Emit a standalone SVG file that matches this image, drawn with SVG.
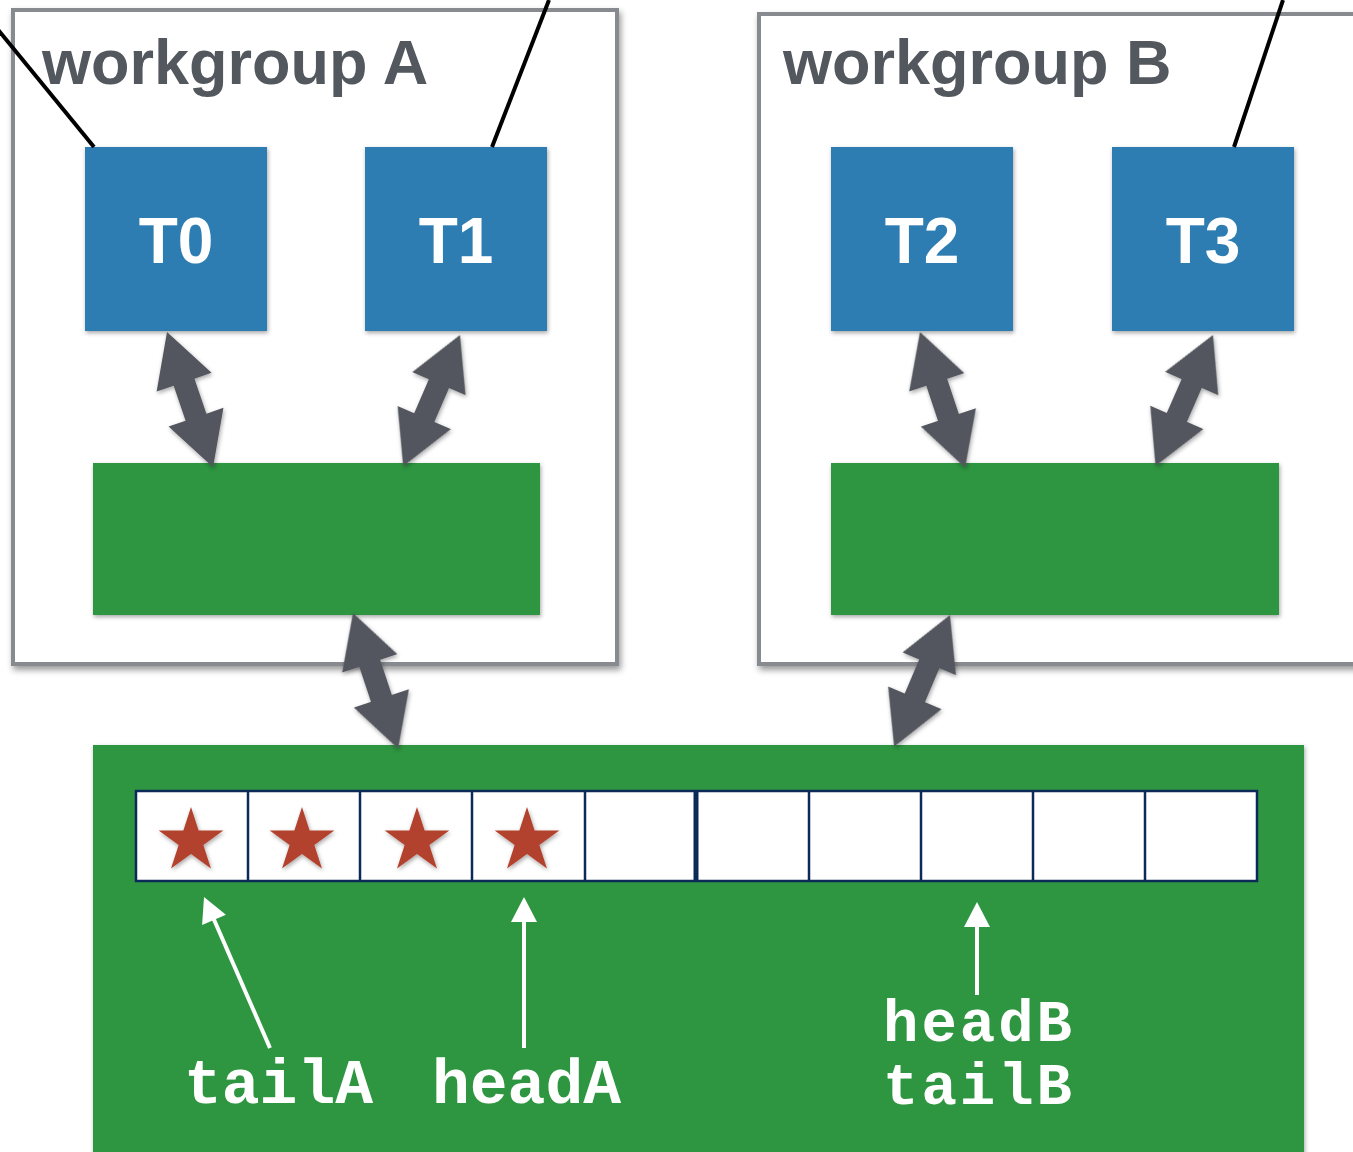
<svg xmlns="http://www.w3.org/2000/svg" xmlns:xlink="http://www.w3.org/1999/xlink" width="1353" height="1152" viewBox="0 0 1353 1152">
<style>
.wg{fill:#ffffff;stroke:#878a8e;stroke-width:4}
.wgt{font-family:"Liberation Sans",Arial,sans-serif;font-weight:bold;font-size:63px;fill:#53575e}
.th{fill:#2e7db2}
.tt{font-family:"Liberation Sans",Arial,sans-serif;font-weight:bold;font-size:64px;fill:#ffffff;text-anchor:middle}
.gr{fill:#2e963f}
.cell{fill:#ffffff;stroke:#0c2a58;stroke-width:2.5}
.star{fill:#b2432f}
.mono{font-family:"Liberation Mono","Courier New",monospace;font-weight:bold;font-size:63px;fill:#ffffff}
.mono2{font-family:"Liberation Mono","Courier New",monospace;font-weight:bold;font-size:59px;fill:#ffffff}
.blk{stroke:#000000;stroke-width:4;fill:none}
.dbl{fill:#52575e}
.wl{stroke:#ffffff;stroke-width:4;fill:none}
.wh{fill:#ffffff}
</style>
<defs>
<filter id="sh" x="-10%" y="-10%" width="130%" height="130%">
<feDropShadow dx="2" dy="4" stdDeviation="3" flood-color="#000" flood-opacity="0.4"/>
</filter>
<filter id="sh2" x="-20%" y="-20%" width="140%" height="140%">
<feDropShadow dx="1" dy="2" stdDeviation="2" flood-color="#000" flood-opacity="0.35"/>
</filter>
<polygon id="dblarrow" points="0,0 53,-29 53,-11 90,-11 90,-29 143,0 90,29 90,11 53,11 53,29"/>
<polygon id="starshape" points="0,-34 7.64,-10.52 32.34,-10.51 12.36,4.02 19.98,27.51 0,13 -19.98,27.51 -12.36,4.02 -32.34,-10.51 -7.64,-10.52"/>
</defs>
<rect width="1353" height="1152" fill="#ffffff"/>

<g id="workgroupA">
<rect class="wg" x="13" y="10" width="604" height="654" filter="url(#sh)"/>
<text class="wgt" x="42" y="84">workgroup A</text>
</g>
<g id="workgroupB">
<rect class="wg" x="759" y="14" width="700" height="650" filter="url(#sh)"/>
<text class="wgt" x="783" y="84">workgroup B</text>
</g>

<g id="T0"><rect class="th" x="85" y="147" width="182" height="184" filter="url(#sh2)"/><text class="tt" x="176" y="263">T0</text></g>
<g id="T1"><rect class="th" x="365" y="147" width="182" height="184" filter="url(#sh2)"/><text class="tt" x="456" y="263">T1</text></g>
<g id="T2"><rect class="th" x="831" y="147" width="182" height="184" filter="url(#sh2)"/><text class="tt" x="922" y="263">T2</text></g>
<g id="T3"><rect class="th" x="1112" y="147" width="182" height="184" filter="url(#sh2)"/><text class="tt" x="1203" y="263">T3</text></g>

<g id="localA"><rect class="gr" x="93" y="463" width="447" height="152" filter="url(#sh2)"/></g>
<g id="localB"><rect class="gr" x="831" y="463" width="448" height="152" filter="url(#sh2)"/></g>

<g id="globalMem">
<rect class="gr" x="93" y="745" width="1211" height="420" filter="url(#sh2)"/>
</g>

<g id="array">
<rect class="cell" x="136" y="791" width="1121" height="90"/>
<line class="cell" x1="248" y1="791" x2="248" y2="881"/>
<line class="cell" x1="360" y1="791" x2="360" y2="881"/>
<line class="cell" x1="472" y1="791" x2="472" y2="881"/>
<line class="cell" x1="585" y1="791" x2="585" y2="881"/>
<line x1="696" y1="791" x2="696" y2="881" stroke="#0c2a58" stroke-width="5"/>
<line class="cell" x1="809" y1="791" x2="809" y2="881"/>
<line class="cell" x1="921" y1="791" x2="921" y2="881"/>
<line class="cell" x1="1033" y1="791" x2="1033" y2="881"/>
<line class="cell" x1="1145" y1="791" x2="1145" y2="881"/>
<g filter="url(#sh2)">
<use href="#starshape" class="star" transform="translate(191,841)"/>
<use href="#starshape" class="star" transform="translate(302,841)"/>
<use href="#starshape" class="star" transform="translate(417,841)"/>
<use href="#starshape" class="star" transform="translate(527,841)"/>
</g>
</g>

<g id="labels">
<text class="mono" x="184" y="1103">tailA</text>
<text class="mono" x="432" y="1103">headA</text>
<text class="mono2" x="883" y="1041" textLength="189" lengthAdjust="spacing">headB</text>
<text class="mono2" x="883" y="1104" textLength="189" lengthAdjust="spacing">tailB</text>
</g>

<g id="connectors">
<line class="blk" x1="-5" y1="26" x2="94" y2="147"/>
<line class="blk" x1="549" y1="0" x2="492" y2="147"/>
<line class="blk" x1="1283" y1="0" x2="1234" y2="147"/>
<g filter="url(#sh2)">
<use href="#dblarrow" class="dbl" transform="translate(167,332) rotate(71.2)"/>
<use href="#dblarrow" class="dbl" transform="translate(460,335) rotate(113.4)"/>
<use href="#dblarrow" class="dbl" transform="translate(353,613) rotate(71.6)"/>
<use href="#dblarrow" class="dbl" transform="translate(920,332) rotate(71.6)"/>
<use href="#dblarrow" class="dbl" transform="translate(1213,335) rotate(113.7)"/>
<use href="#dblarrow" class="dbl" transform="translate(950,615) rotate(113.0)"/>
</g>
<line class="wl" x1="270" y1="1048" x2="212" y2="915"/>
<polygon class="wh" points="204,897 225.9,914.7 202.1,925.1"/>
<line class="wl" x1="524" y1="1048" x2="524" y2="918"/>
<polygon class="wh" points="524,897 537,922 511,922"/>
<line class="wl" x1="977" y1="995" x2="977" y2="922"/>
<polygon class="wh" points="977,902 990,927 964,927"/>
</g>
</svg>
